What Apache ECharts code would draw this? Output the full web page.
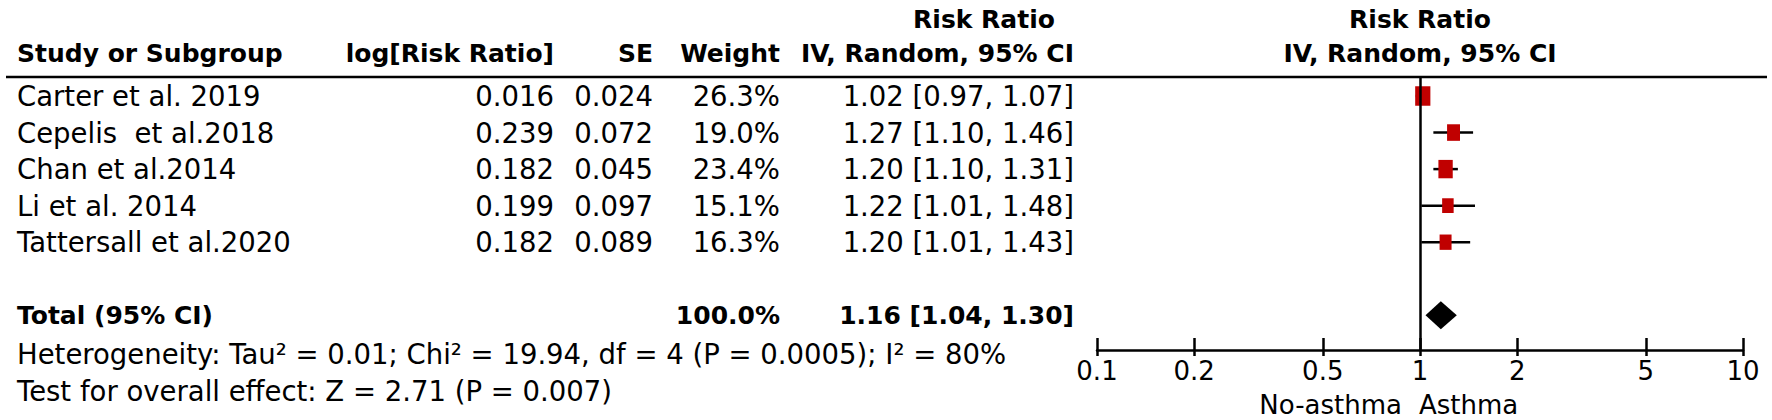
<!DOCTYPE html>
<html><head><meta charset="utf-8">
<script src="https://cdn.jsdelivr.net/npm/echarts@6/dist/echarts.min.js"></script>
<style>html,body{margin:0;padding:0;background:#fff}#c{width:1772px;height:420px}</style>
</head><body><div id="c"></div>
<script>
// ---- data ----
const studies = ['Carter et al. 2019', 'Cepelis\u00a0 et al.2018', 'Chan et al.2014', 'Li et al. 2014', 'Tattersall et al.2020'];
const logRR = ['0.016', '0.239', '0.182', '0.199', '0.182'];
const seVals = ['0.024', '0.072', '0.045', '0.097', '0.089'];
const weights = [26.3, 19.0, 23.4, 15.1, 16.3];
const rr = [1.02, 1.27, 1.20, 1.22, 1.20];
const lower = [0.97, 1.10, 1.10, 1.01, 1.01];
const upper = [1.07, 1.46, 1.31, 1.48, 1.43];
const totalWeight = 100.0;
const totalRR = 1.16;
const totalLower = 1.04;
const totalUpper = 1.30;
const axisTicks = [0.1, 0.2, 0.5, 1, 2, 5, 10];
const heterogeneity = 'Heterogeneity: Tau\u00b2 = 0.01; Chi\u00b2 = 19.94, df = 4 (P = 0.0005); I\u00b2 = 80%';
const overallEffect = 'Test for overall effect: Z = 2.71 (P = 0.007)';
const favoursLeft = 'No-asthma';
const favoursRight = 'Asthma';

// ---- layout ----
const FONT = 'DejaVu Sans';
const FS = 27.5, FSB = 25, FSA = 26;
const lineY = 77;
const rowIdxTotal = 6;
const yMin = -0.52, yMax = 6.95;
const gridTop = lineY, gridH = 273, gridLeft = 1097, gridW = 646;
const rowY = i => gridTop + (i - yMin) / (yMax - yMin) * gridH;
const colName = 17, colLog = 554, colSE = 653, colW = 780, colCI = 1074, colCIh = 984, plotC = 1420;

const fmtCI = (a, b, c) => a.toFixed(2) + ' [' + b.toFixed(2) + ', ' + c.toFixed(2) + ']';

function txt(text, x, y, align, bold, size) {
  return { type: 'text', x: x, y: y, silent: true,
    style: { text: text, fontFamily: FONT, fontSize: size || (bold ? FSB : FS), fontWeight: bold ? 'bold' : 'normal',
      fill: '#000', align: align, verticalAlign: 'middle' } };
}

const g = [];
g.push({ type: 'line', shape: { x1: 6, y1: lineY, x2: 1767, y2: lineY }, style: { stroke: '#000', lineWidth: 2.5 }, silent: true });
g.push(txt('Risk Ratio', colCIh, 19, 'center', true));
g.push(txt('Study or Subgroup', colName, 53, 'left', true));
g.push(txt('log[Risk Ratio]', colLog, 53, 'right', true));
g.push(txt('SE', colSE, 53, 'right', true));
g.push(txt('Weight', colW, 53, 'right', true));
g.push(txt('IV, Random, 95% CI', colCI, 53, 'right', true));
g.push(txt('Risk Ratio', plotC, 19, 'center', true));
g.push(txt('IV, Random, 95% CI', plotC, 53, 'center', true));
studies.forEach((s, i) => {
  const y = rowY(i);
  g.push(txt(s, colName, y, 'left', false));
  g.push(txt(logRR[i], colLog, y, 'right', false));
  g.push(txt(seVals[i], colSE, y, 'right', false));
  g.push(txt(weights[i].toFixed(1) + '%', colW, y, 'right', false));
  g.push(txt(fmtCI(rr[i], lower[i], upper[i]), colCI, y, 'right', false));
});
const ty = rowY(rowIdxTotal);
g.push(txt('Total (95% CI)', colName, ty, 'left', true));
g.push(txt(totalWeight.toFixed(1) + '%', colW, ty, 'right', true));
g.push(txt(fmtCI(totalRR, totalLower, totalUpper), colCI, ty, 'right', true));
g.push(txt(heterogeneity, colName, 354, 'left', false));
g.push(txt(overallEffect, colName, 391, 'left', false));
g.push(txt(favoursLeft, plotC - 18, 405, 'right', false, FSA));
g.push(txt(favoursRight, plotC - 1, 405, 'left', false, FSA));

const studyData = studies.map((s, i) => [Math.log10(rr[i]), i, Math.log10(lower[i]), Math.log10(upper[i]), weights[i]]);
const totalData = [[Math.log10(totalRR), rowIdxTotal, Math.log10(totalLower), Math.log10(totalUpper)]];
const tickVals = axisTicks.map(v => Math.log10(v));
const fmtTick = v => String(Number(Math.pow(10, v).toPrecision(3)));

const chart = echarts.init(document.getElementById('c'), null, { renderer: 'svg' });
chart.setOption({
  animation: false,
  backgroundColor: '#fff',
  textStyle: { fontFamily: FONT },
  grid: { left: gridLeft, top: gridTop, width: gridW, height: gridH, outerBoundsMode: 'none' },
  xAxis: [{
    type: 'value', min: -1, max: 1, position: 'bottom',
    axisLine: { show: true, onZero: false, lineStyle: { color: '#000', width: 2.5 } },
    axisTick: { show: true, inside: false, length: 6, customValues: tickVals, lineStyle: { color: '#000', width: 2.5 } },
    axisLabel: { show: true, customValues: tickVals, formatter: fmtTick, color: '#000', fontSize: FSA, fontFamily: FONT, margin: 8 },
    splitLine: { show: false }
  }, {
    type: 'value', min: -1, max: 1, position: 'bottom',
    axisLine: { show: false, onZero: false },
    axisTick: { show: true, inside: true, length: 12, customValues: tickVals, lineStyle: { color: '#000', width: 2.5 } },
    axisLabel: { show: false },
    splitLine: { show: false }
  }],
  yAxis: { type: 'value', min: yMin, max: yMax, inverse: true, show: false },
  series: [{
    type: 'custom',
    data: studyData,
    renderItem: function (params, api) {
      const y = api.value(1);
      const pL = api.coord([api.value(2), y]);
      const pH = api.coord([api.value(3), y]);
      const pC = api.coord([api.value(0), y]);
      const h = 3.8 * Math.sqrt(api.value(4));
      const w = 0.78 * h;
      return { type: 'group', children: [
        { type: 'line', shape: { x1: pL[0], y1: pL[1], x2: pH[0], y2: pH[1] }, style: { stroke: '#000', lineWidth: 2.5 } },
        { type: 'rect', shape: { x: pC[0] - w / 2, y: pC[1] - h / 2, width: w, height: h }, style: { fill: '#c00000' } }
      ] };
    },
    markLine: { silent: true, symbol: ['none', 'none'], label: { show: false },
      lineStyle: { color: '#000', width: 2.5, type: 'solid' }, data: [{ xAxis: 0 }] }
  }, {
    type: 'custom',
    data: totalData,
    renderItem: function (params, api) {
      const y = api.value(1);
      const pL = api.coord([api.value(2), y]);
      const pH = api.coord([api.value(3), y]);
      const pC = api.coord([api.value(0), y]);
      const hh = 14;
      return { type: 'polygon', shape: { points: [[pL[0], pL[1]], [pC[0], pC[1] - hh], [pH[0], pH[1]], [pC[0], pC[1] + hh]] }, style: { fill: '#000' } };
    }
  }],
  graphic: g
});
</script>
</body></html>
